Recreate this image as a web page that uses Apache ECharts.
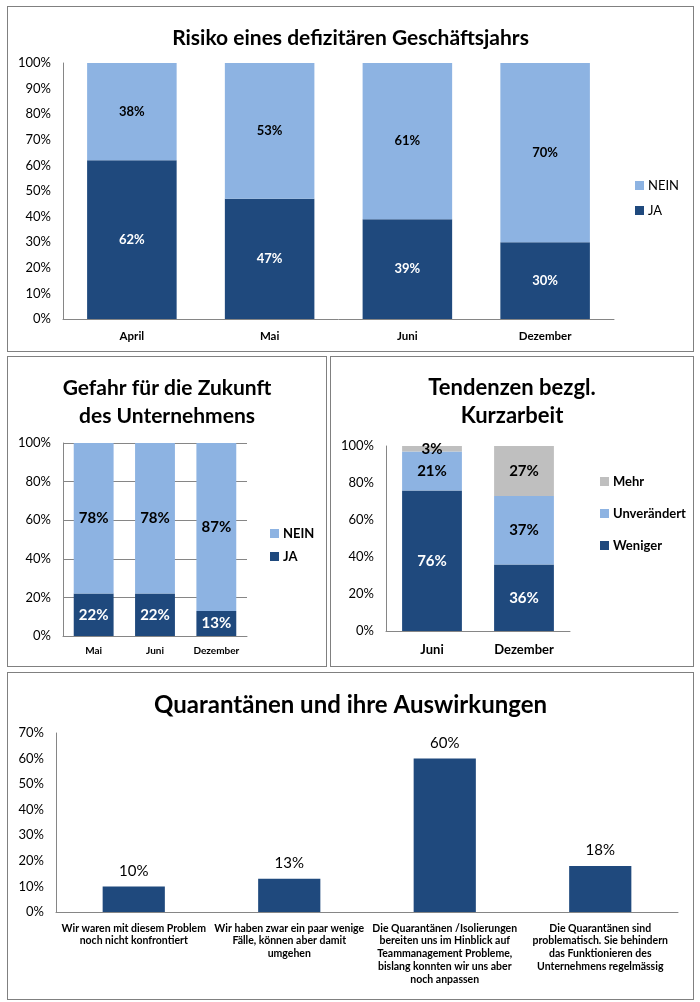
<!DOCTYPE html>
<html><head><meta charset="utf-8">
<script src="https://cdn.jsdelivr.net/npm/echarts@6/dist/echarts.min.js"></script>
<style>
html,body{margin:0;padding:0;background:#fff;}
.p{position:absolute;border:1px solid #808080;background:#fff;}
</style></head><body>
<div id="c1" class="p" style="left:7px;top:6px;width:685px;height:344px"></div>
<div id="c2" class="p" style="left:7px;top:356px;width:318px;height:309px"></div>
<div id="c3" class="p" style="left:330px;top:356px;width:362px;height:309px"></div>
<div id="c4" class="p" style="left:7px;top:672px;width:685px;height:326px"></div>
<script>
// ---- data ----
const riskTitle = 'Risiko eines defizitären Geschäftsjahrs';
const riskCats = ['April', 'Mai', 'Juni', 'Dezember'];
const riskJa = [62, 47, 39, 30];
const riskNein = [38, 53, 61, 70];

const gefahrTitle = 'Gefahr für die Zukunft\ndes Unternehmens';
const gefahrCats = ['Mai', 'Juni', 'Dezember'];
const gefahrJa = [22, 22, 13];
const gefahrNein = [78, 78, 87];

const kurzTitle = 'Tendenzen bezgl.\nKurzarbeit';
const kurzCats = ['Juni', 'Dezember'];
const kurzWeniger = [76, 36];
const kurzUnveraendert = [21, 37];
const kurzMehr = [3, 27];

const quarTitle = 'Quarantänen und ihre Auswirkungen';
const quarCats = [
  'Wir waren mit diesem Problem\nnoch nicht konfrontiert',
  'Wir haben zwar ein paar wenige\nFälle, können aber damit\numgehen',
  'Die Quarantänen /Isolierungen\nbereiten uns im Hinblick auf\nTeammanagement Probleme,\nbislang konnten wir uns aber\nnoch anpassen',
  'Die Quarantänen sind\nproblematisch. Sie behindern\ndas Funktionieren des\nUnternehmens regelmässig'
];
const quarValues = [10, 13, 60, 18];

// ---- styles ----
const FONT = 'Lato, "Open Sans", sans-serif';
const NAVY = '#1F497D';
const LIGHT = '#8DB3E2';
const GREY = '#BFBFBF';
const AXIS = '#868686';

function yAxis(max, interval, fontSize, split) {
  return {
    type: 'value', min: 0, max: max, interval: interval,
    axisLine: {show: true, lineStyle: {color: AXIS, width: 1}},
    axisTick: {show: false},
    splitLine: {show: !!split, lineStyle: {color: AXIS, width: 1}},
    axisLabel: {formatter: '{value}%', color: '#000', fontFamily: FONT, fontSize: fontSize, margin: 12}
  };
}
function xAxis(cats, fontSize, margin, extra) {
  return {
    type: 'category', data: cats,
    axisLine: {show: true, lineStyle: {color: AXIS, width: 1}},
    axisTick: {show: false},
    axisLabel: Object.assign({interval: 0, color: '#000', fontFamily: FONT, fontSize: fontSize, fontWeight: 'bold', margin: margin}, extra || {})
  };
}
function stackSeries(name, data, color, labelColor, fontSize, width) {
  return {
    name: name, type: 'bar', stack: 's', data: data, barWidth: width,
    itemStyle: {color: color},
    label: {show: true, position: 'inside', formatter: '{c}%', color: labelColor,
            fontFamily: FONT, fontWeight: 'bold', fontSize: fontSize}
  };
}
function title(text, size, top) {
  return {text: text, left: 'center', top: top,
    textStyle: {fontFamily: FONT, fontWeight: 'bold', fontSize: size, color: '#000', lineHeight: 28}};
}
function legend(data, left, top, gap, size, weight) {
  return {data: data, orient: 'vertical', left: left, top: top, itemGap: gap, padding: 0,
    icon: 'rect', itemWidth: 9, itemHeight: 9, itemStyle: {borderWidth: 0},
    textStyle: {fontFamily: FONT, fontSize: size, fontWeight: weight, color: '#000', padding: [0, 0, 0, -1]}};
}

// ---- chart 1 ----
echarts.init(document.getElementById('c1')).setOption({
  animation: false,
  title: title(riskTitle, 21, 12),
  legend: legend(['NEIN', 'JA'], 627, 172, 12, 13, 'normal'),
  grid: {left: 55, top: 56, width: 551, height: 256},
  xAxis: xAxis(riskCats, 11.5, 11),
  yAxis: yAxis(100, 10, 13, false),
  series: [
    stackSeries('JA', riskJa, NAVY, '#fff', 13, '65%'),
    stackSeries('NEIN', riskNein, LIGHT, '#000', 13, '65%')
  ]
});

// ---- chart 2 ----
echarts.init(document.getElementById('c2')).setOption({
  animation: false,
  title: title(gefahrTitle, 21, 12),
  legend: legend(['NEIN', 'JA'], 262, 170, 10, 13, 'bold'),
  grid: {left: 55, top: 86, width: 184, height: 193},
  xAxis: xAxis(gefahrCats, 10, 10),
  yAxis: yAxis(100, 20, 13, true),
  series: [
    stackSeries('JA', gefahrJa, NAVY, '#fff', 15, '65%'),
    stackSeries('NEIN', gefahrNein, LIGHT, '#000', 15, '65%')
  ]
});

// ---- chart 3 ----
echarts.init(document.getElementById('c3')).setOption({
  animation: false,
  title: title(kurzTitle, 22, 12),
  legend: legend(['Mehr', 'Unverändert', 'Weniger'], 269, 118, 19, 13, 'bold'),
  grid: {left: 55, top: 89, width: 184, height: 185},
  xAxis: xAxis(kurzCats, 13, 12),
  yAxis: yAxis(100, 20, 13, false),
  series: [
    stackSeries('Weniger', kurzWeniger, NAVY, '#fff', 15, '65%'),
    stackSeries('Unverändert', kurzUnveraendert, LIGHT, '#000', 15, '65%'),
    stackSeries('Mehr', kurzMehr, GREY, '#000', 15, '65%')
  ]
});

// ---- chart 4 ----
echarts.init(document.getElementById('c4')).setOption({
  animation: false,
  title: title(quarTitle, 24, 13),
  grid: {left: 48, top: 60, width: 622, height: 179},
  xAxis: xAxis(quarCats, 10.5, 10, {lineHeight: 12.7}),
  yAxis: yAxis(70, 10, 13, false),
  series: [{
    type: 'bar', data: quarValues, barWidth: '40%',
    itemStyle: {color: NAVY},
    label: {show: true, position: 'top', distance: 8, formatter: '{c}%', color: '#000',
            fontFamily: FONT, fontSize: 15}
  }]
});
</script>
</body></html>
